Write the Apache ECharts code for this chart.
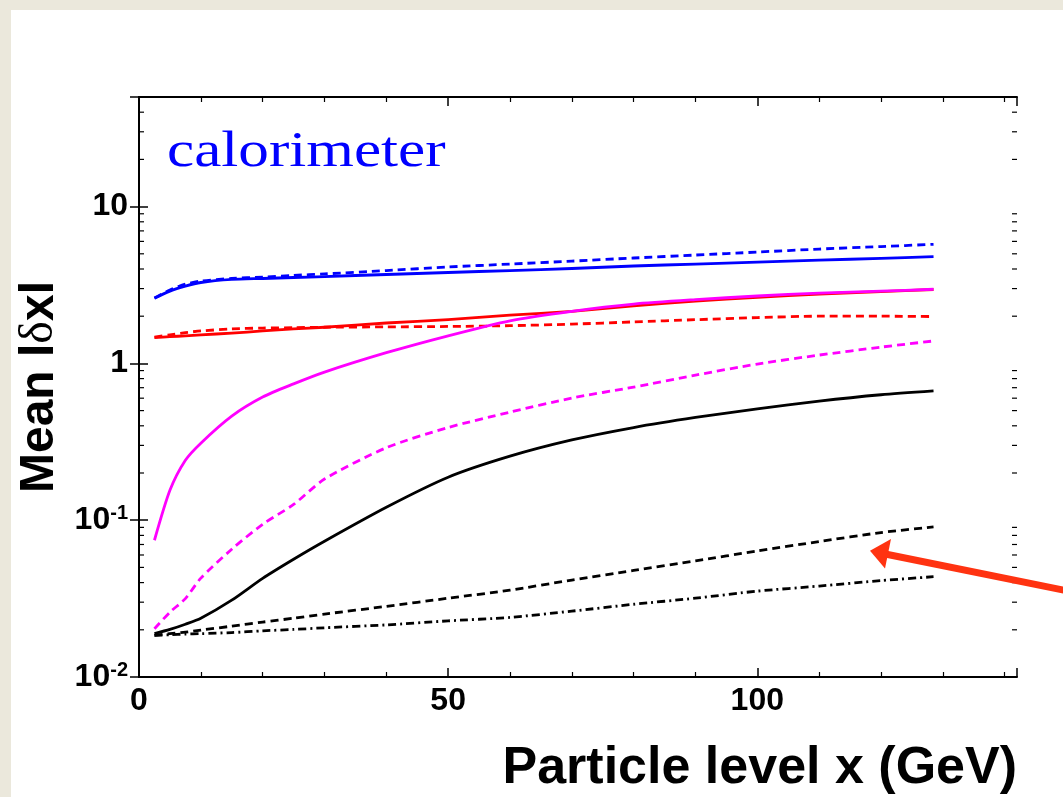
<!DOCTYPE html>
<html>
<head>
<meta charset="utf-8">
<title>Mean |dx| vs particle level x</title>
<script src="https://cdn.jsdelivr.net/npm/echarts@6/dist/echarts.min.js"></script>
<style>
  html, body { margin: 0; padding: 0; background: #ebe8dc; }
  #panel { position: absolute; left: 11px; top: 10px; right: 0; bottom: 0; background: #fff; }
  #chart { position: absolute; left: 0; top: 0; width: 1063px; height: 797px; }
</style>
</head>
<body>
<div id="panel"></div>
<div id="chart"></div>
<script>
// particle level x (GeV) where the curves were read
const xGeV = [2.5, 5, 7.5, 10, 15, 20, 25, 30, 40, 50, 60, 70, 80, 90, 100, 110, 120, 128.5];

const blueSolid    = [2.60, 2.89, 3.11, 3.28, 3.43, 3.48, 3.53, 3.58, 3.69, 3.80, 3.91, 4.03, 4.18, 4.30, 4.43, 4.56, 4.67, 4.79];
const blueDashed   = [2.61, 2.94, 3.20, 3.35, 3.48, 3.55, 3.64, 3.72, 3.91, 4.12, 4.30, 4.49, 4.70, 4.91, 5.13, 5.36, 5.56, 5.75];
const redSolid     = [1.46, 1.48, 1.50, 1.52, 1.56, 1.61, 1.66, 1.70, 1.81, 1.90, 2.03, 2.15, 2.33, 2.50, 2.64, 2.77, 2.87, 2.96];
const redDashed    = [1.47, 1.52, 1.57, 1.61, 1.66, 1.68, 1.69, 1.70, 1.71, 1.72, 1.74, 1.78, 1.84, 1.90, 1.96, 2.00, 2.00, 1.99];
const magentaSolid = [0.0745, 0.155, 0.241, 0.31, 0.461, 0.61, 0.74, 0.88, 1.17, 1.50, 1.87, 2.15, 2.39, 2.55, 2.69, 2.81, 2.89, 2.97];
const magentaDashed = [0.0203, 0.0259, 0.0316, 0.0427, 0.0653, 0.0942, 0.126, 0.183, 0.29, 0.39, 0.489, 0.601, 0.706, 0.842, 0.99, 1.13, 1.27, 1.39];
const blackSolid   = [0.0189, 0.0201, 0.0217, 0.0237, 0.0309, 0.0426, 0.0564, 0.0735, 0.121, 0.188, 0.256, 0.325, 0.39, 0.452, 0.513, 0.575, 0.631, 0.668];
const blackDashed  = [0.01845, 0.0189, 0.0193, 0.0199, 0.0211, 0.0224, 0.0237, 0.0252, 0.0282, 0.0318, 0.0358, 0.0415, 0.0478, 0.0550, 0.0636, 0.0731, 0.0834, 0.0906];
const blackDashDot = [0.01845, 0.0186, 0.0188, 0.0189, 0.0192, 0.0197, 0.0201, 0.0206, 0.0215, 0.0228, 0.0240, 0.0263, 0.0291, 0.0318, 0.0353, 0.0380, 0.0412, 0.0436];

// axis ranges
const X_MIN = 0, X_MAX = 142;
const Y_MIN = 0.01, Y_MAX = 50;
// log minor ticks (2..9 of each decade)
const yMinorTicks = [0.02, 0.03, 0.04, 0.05, 0.06, 0.07, 0.08, 0.09,
                     0.2, 0.3, 0.4, 0.5, 0.6, 0.7, 0.8, 0.9,
                     2, 3, 4, 5, 6, 7, 8, 9,
                     20, 30, 40];

const SANS = 'Liberation Sans, Arial, Helvetica, sans-serif';
const SERIF = 'Liberation Serif, Times New Roman, serif';
const RED_ARROW = '#ff3311';

function pairs(ys) {
    return ys.map((y, i) => [xGeV[i], y]);
}

function curve(ys, color, dash) {
    return {
        type: 'line',
        data: pairs(ys),
        smooth: 0.25,
        showSymbol: false,
        symbol: 'none',
        silent: true,
        lineStyle: { color: color, width: 2.8, type: dash || 'solid', join: 'round' },
        z: 3
    };
}

const DASH = [8, 5];
const DASHDOT = [8, 4, 2, 4];

let myChart = echarts.init(document.getElementById('chart'), null, { renderer: 'canvas' });

let option = {
    backgroundColor: 'transparent',
    animation: false,
    grid: { left: 139, top: 97, right: 46, bottom: 120, containLabel: false },
    xAxis: [
        {
            type: 'value',
            min: X_MIN, max: X_MAX, interval: 50,
            name: 'Particle level x (GeV)',
            nameLocation: 'end',
            nameGap: 0,
            nameTextStyle: {
                fontFamily: SANS, fontWeight: 'bold', fontSize: 52, color: '#000',
                align: 'right', verticalAlign: 'top', padding: [66, 0, 0, 0]
            },
            axisLine: { lineStyle: { color: '#000', width: 2 } },
            axisTick: { inside: true, length: 9, lineStyle: { color: '#000', width: 1.5 } },
            minorTick: { show: true, splitNumber: 5, length: 5, lineStyle: { color: '#000', width: 1.2 } },
            splitLine: { show: false },
            axisLabel: {
                fontFamily: SANS, fontWeight: 'bold', fontSize: 32, color: '#000',
                margin: 8, showMaxLabel: false
            }
        },
        {
            type: 'value', position: 'top',
            min: X_MIN, max: X_MAX, interval: 50,
            axisLine: { show: true, lineStyle: { color: '#000', width: 2 } },
            axisTick: { show: true, inside: true, length: 9, lineStyle: { color: '#000', width: 1.5 } },
            minorTick: { show: true, splitNumber: 5, length: 5, lineStyle: { color: '#000', width: 1.2 } },
            splitLine: { show: false },
            axisLabel: { show: false }
        }
    ],
    yAxis: [
        {
            type: 'log', logBase: 10,
            min: Y_MIN, max: Y_MAX,
            name: '{a|Mean l}{d|δ}{a|xl}',
            nameLocation: 'middle',
            nameRotate: 90,
            nameGap: 63,
            nameTextStyle: {
                rich: {
                    a: { fontFamily: SANS, fontWeight: 'bold', fontSize: 48, color: '#000' },
                    d: { fontFamily: SERIF, fontSize: 48, color: '#000' }
                }
            },
            axisLine: { show: true, lineStyle: { color: '#000', width: 2 } },
            axisTick: { inside: true, length: 9, lineStyle: { color: '#000', width: 1.5 } },
            splitLine: { show: false },
            axisLabel: {
                margin: 11,
                showMaxLabel: false,
                formatter: function (v) {
                    const e = Math.round(Math.log10(v));
                    if (e >= 0) return '{b|' + Math.pow(10, e) + '}';
                    return '{b|10}{s|' + e + '}';
                },
                rich: {
                    b: { fontFamily: SANS, fontWeight: 'bold', fontSize: 32, color: '#000', lineHeight: 34 },
                    s: { fontFamily: SANS, fontWeight: 'bold', fontSize: 20, color: '#000', verticalAlign: 'top', lineHeight: 20 }
                }
            }
        },
        {
            type: 'log', logBase: 10, position: 'right',
            min: Y_MIN, max: Y_MAX,
            axisLine: { show: true, lineStyle: { color: '#000', width: 2 } },
            axisTick: { show: true, inside: true, length: 9, lineStyle: { color: '#000', width: 1.5 } },
            splitLine: { show: false },
            axisLabel: { show: false }
        }
    ],
    series: [
        curve(blackDashDot, '#000', DASHDOT),
        curve(blackDashed, '#000', DASH),
        curve(blackSolid, '#000'),
        curve(magentaDashed, '#ff00ff', DASH),
        curve(redDashed, '#ff0000', DASH),
        curve(redSolid, '#ff0000'),
        curve(magentaSolid, '#ff00ff'),
        curve(blueSolid, '#0000ff'),
        curve(blueDashed, '#0000ff', DASH),
        {
            // minor ticks of the log axis, left and right frame
            type: 'custom',
            silent: true,
            data: yMinorTicks.map(v => [X_MIN, v]),
            renderItem: function (params, api) {
                const v = api.value(1);
                const l = api.coord([X_MIN, v]);
                const r = api.coord([X_MAX, v]);
                const st = { stroke: '#000', lineWidth: 1.2 };
                return {
                    type: 'group',
                    children: [
                        { type: 'line', shape: { x1: l[0], y1: l[1], x2: l[0] + 5, y2: l[1] }, style: st },
                        { type: 'line', shape: { x1: r[0] - 5, y1: r[1], x2: r[0], y2: r[1] }, style: st }
                    ]
                };
            },
            z: 4
        }
    ],
    graphic: [
        {
            type: 'text',
            x: 167, y: 153,
            scaleX: 1.2,
            style: {
                text: 'calorimeter',
                font: '51px ' + SERIF,
                fill: '#0000ff',
                align: 'left',
                verticalAlign: 'middle'
            }
        },
        {
            type: 'line',
            shape: { x1: 1080, y1: 593.5, x2: 884, y2: 553.7 },
            style: { stroke: RED_ARROW, lineWidth: 7 },
            z: 10
        },
        {
            type: 'polygon',
            shape: { points: [[870, 550.7], [891, 539], [885, 568.5]] },
            style: { fill: RED_ARROW },
            z: 10
        }
    ]
};

myChart.setOption(option);
</script>
</body>
</html>
